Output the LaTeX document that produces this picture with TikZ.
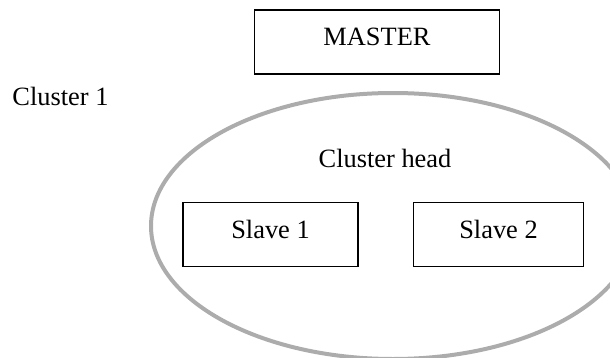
\documentclass[tikz,border=0pt]{standalone}
\usepackage{fontspec}
\setmainfont{Liberation Serif}
\usetikzlibrary{shapes.geometric}

\tikzset{
  unitbox/.style={draw, line width=0.7pt, inner sep=0pt,
    minimum height=32pt, text height=0.75em, text depth=0.4em},
  clusterring/.style={ellipse, draw=gray!65, line width=2pt, inner sep=0pt},
}

\begin{document}
\begin{tikzpicture}[x=0.5pt, y=-0.5pt, font=\fontsize{13.2}{16}\selectfont]
\useasboundingbox (0,0) rectangle (610,358);

\node[clusterring, minimum width=242pt, minimum height=133pt] (cluster) at (393,226) {};
\node[unitbox, minimum width=122.5pt] (master) at (377,42) {MASTER};
\node[anchor=base west, inner sep=0pt] (clusterlabel) at (12,105) {Cluster 1};
\node[anchor=base, inner sep=0pt] (head) at (385,167) {Cluster head};
\node[unitbox, minimum width=87.5pt] (slave1) at (270.5,234.5) {Slave 1};
\node[unitbox, minimum width=85pt] (slave2) at (498.5,234.5) {Slave 2};
\end{tikzpicture}
\end{document}
